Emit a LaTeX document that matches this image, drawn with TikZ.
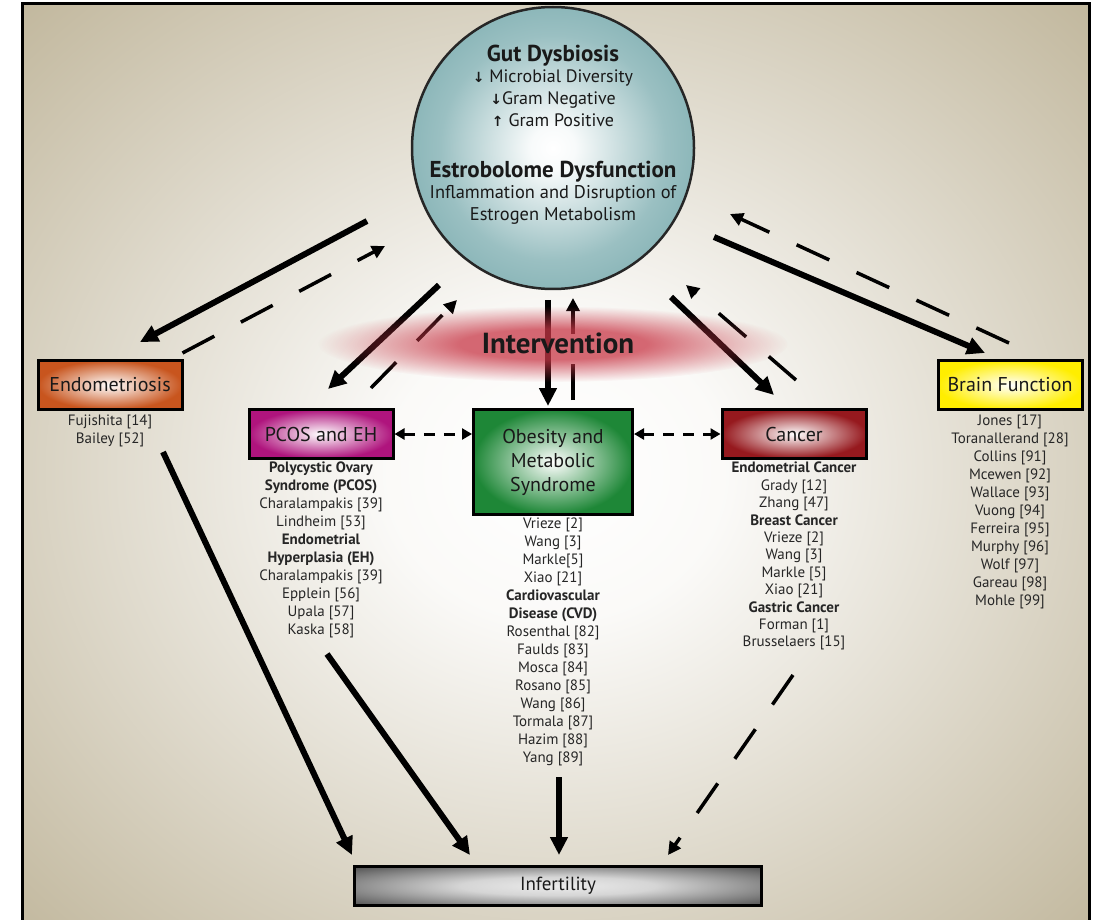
\documentclass[tikz,border=0pt]{standalone}
\usepackage{fontspec}
\setmainfont{PT Sans}
\newfontfamily\arrowfont{DejaVu Sans}
\usetikzlibrary{arrows.meta,positioning,calc,fadings}

\definecolor{bgtan}{RGB}{180,168,136}
\definecolor{gutteal}{RGB}{72,140,144}
\definecolor{endocol}{RGB}{200,85,30}
\definecolor{pcoscol}{RGB}{175,20,125}
\definecolor{obescol}{RGB}{30,135,55}
\definecolor{cancol}{RGB}{150,25,30}
\definecolor{braincol}{RGB}{255,238,0}
\definecolor{infgray}{RGB}{88,88,88}
\definecolor{infhi}{RGB}{235,235,235}
\definecolor{glowred}{RGB}{200,55,70}

\pgfdeclareradialshading{bgglow}{\pgfpoint{0bp}{0bp}}{color(0bp)=(white); color(8bp)=(white!94!bgtan); color(42bp)=(bgtan); color(60bp)=(bgtan)}
\pgfdeclareradialshading{gutball}{\pgfpoint{0bp}{0bp}}{color(0bp)=(white); color(4bp)=(white!96!gutteal); color(20bp)=(gutteal!55!white); color(50bp)=(gutteal)}
\pgfdeclareradialshading{infglow}{\pgfpoint{0bp}{0bp}}{color(0bp)=(infhi); color(12bp)=(infhi!85!infgray); color(34bp)=(infgray); color(50bp)=(infgray)}
\pgfdeclareradialshading{glowshape}{\pgfpoint{0bp}{0bp}}{color(0bp)=(white); color(10bp)=(white); color(25bp)=(black); color(50bp)=(black)}
\pgfdeclarefading{glowfade}{\pgfuseshading{glowshape}}

\newcommand{\dnarr}{{\arrowfont\bfseries\fontsize{14}{22}\selectfont↓}}
\newcommand{\uparr}{{\arrowfont\bfseries\fontsize{14}{22}\selectfont↑}}

\begin{document}
\begin{tikzpicture}[x=1pt,y=-1pt,
  condbox/.style={draw=black, line width=3pt, minimum width=144pt, minimum height=49pt, inner color=white, outer color=#1, text=black!90, font=\fontsize{20}{24}\selectfont},
  cites/.style={align=center, inner sep=0pt, text=black!85, font=\fontsize{15}{18}\selectfont},
  solidarr/.style={line width=6pt, -{Triangle[length=18pt,width=17pt]}},
  backarr/.style={line width=3.5pt, dash pattern=on 36pt off 30pt, -{Triangle[length=13pt,width=13pt]}},
  linkarr/.style={line width=3pt, dash pattern=on 11pt off 9pt, {Triangle[length=10pt,width=11pt]}-{Triangle[length=10pt,width=11pt]}}]
\path[use as bounding box, fill=white] (0,0) rectangle (1101,920);
\clip (0,0) rectangle (1101,920);
\shade[shading=bgglow] (22,4) rectangle (1089,940);
\draw[line width=3pt] (22,4) rectangle (1089,940);

% microbiome
\node[circle, draw=black!85, line width=2.5pt, minimum size=282pt, inner sep=0pt, shade, shading=gutball] (gut) at (553,148) {};
\node[anchor=base, text=black!90, font=\fontsize{23}{26}\bfseries] (dysbio) at (553,62) {Gut Dysbiosis};
\node[anchor=north, align=center, inner sep=0pt, text=black!90, font=\fontsize{18}{22}\selectfont] (dyslist) at (553,70) {\dnarr\ Microbial Diversity\\\dnarr Gram Negative\\\uparr\ Gram Positive};
\node[anchor=base, text=black!90, font=\fontsize{23}{26}\bfseries] (estro) at (553,178) {Estrobolome Dysfunction};
\node[anchor=north, align=center, inner sep=0pt, text=black!90, font=\fontsize{18.4}{22}\selectfont] (estrotext) at (553,185) {Inflammation and Disruption of\\Estrogen Metabolism};

% conditions
\node[condbox=endocol] (endo) at (110,385) {Endometriosis};
\node[condbox=pcoscol] (pcos) at (321,434) {PCOS and EH};
\node[condbox=obescol, minimum width=159pt, minimum height=105pt, align=center, font=\fontsize{20}{24}\selectfont] (obes) at (553,462) {Obesity and\\Metabolic\\Syndrome};
\node[condbox=cancol] (canc) at (794,434) {Cancer};
\node[condbox=braincol] (brain) at (1010,385) {Brain Function};
\node[draw=black, line width=3pt, minimum width=407pt, minimum height=39pt, shade, shading=infglow, text=black!90, font=\fontsize{19}{22}\selectfont] (infert) at (558,886) {Infertility};

% references
\node[cites, below=4pt of endo] (endolist) {Fujishita [14]\\Bailey [52]};
\node[cites, below=2pt of pcos] (pcoslist) {\textbf{Polycystic Ovary}\\\textbf{Syndrome (PCOS)}\\Charalampakis [39]\\Lindheim [53]\\\textbf{Endometrial}\\\textbf{Hyperplasia (EH)}\\Charalampakis [39]\\Epplein [56]\\Upala [57]\\Kaska [58]};
\node[cites, below=2pt of obes] (obeslist) {Vrieze [2]\\Wang [3]\\Markle[5]\\Xiao [21]\\\textbf{Cardiovascular}\\\textbf{Disease (CVD)}\\Rosenthal [82]\\Faulds [83]\\Mosca [84]\\Rosano [85]\\Wang [86]\\Tormala [87]\\Hazim [88]\\Yang [89]};
\node[cites, below=2pt of canc, font=\fontsize{15}{17.4}\selectfont] (canclist) {\textbf{Endometrial Cancer}\\Grady [12]\\Zhang [47]\\\textbf{Breast Cancer}\\Vrieze [2]\\Wang [3]\\Markle [5]\\Xiao [21]\\\textbf{Gastric Cancer}\\Forman [1]\\Brusselaers [15]};
\node[cites, below=4pt of brain] (brainlist) {Jones [17]\\Toranallerand [28]\\Collins [91]\\Mcewen [92]\\Wallace [93]\\Vuong [94]\\Ferreira [95]\\Murphy [96]\\Wolf [97]\\Gareau [98]\\Mohle [99]};

% arrows
\draw[solidarr] ($(gut)+(-186,73)$) -- ($(endo.north)+(30,-17)$);
\draw[solidarr] ($(gut)+(-114,137)$) -- ($(pcos.north)+(7,-19)$);
\draw[solidarr] ($(gut)+(-5,152)$) -- ($(obes.north)+(-5,-2)$);
\draw[solidarr] ($(gut)+(118,149)$) -- ($(canc.north)+(-20,-13)$);
\draw[solidarr] ($(gut)+(161,89)$) -- ($(brain.north)+(-25,-6)$);
\draw[backarr] ($(endo.north east)+(-1,-6)$) -- ($(gut)+(-168,98)$);
\draw[backarr] ($(pcos.north)+(50,-20)$) -- ($(gut)+(-96,152)$);
\draw[backarr] ($(obes.north)+(20,-8)$) -- ($(gut)+(20,150)$);
\draw[backarr] ($(canc.north)+(2,-28)$) -- ($(gut)+(133,137)$);
\draw[backarr] ($(brain.north)+(-1,-16)$) -- ($(gut)+(177,66)$);
\draw[linkarr] (pcos.east) -- (pcos.east -| obes.west);
\draw[linkarr] (obes.east |- canc.west) -- (canc.west);
\draw[solidarr] ($(endo.south)+(53,41)$) -- ($(infert.north)+(-206,-10)$);
\draw[solidarr] ($(pcos.south)+(6,194)$) -- ($(infert.north)+(-88,-10)$);
\draw[solidarr] ($(obes.south)+(6,261)$) -- ($(infert.north)+(1,-10)$);
\draw[backarr] ($(canc.south)+(-1,215)$) -- ($(infert.north)+(110,-10)$);

% intervention
\fill[glowred, opacity=0.75, path fading=glowfade] (553,344) ellipse [x radius=235pt, y radius=38pt];
\node[text=black!90, font=\fontsize{29}{32}\bfseries] (interv) at (558,343) {Intervention};
\end{tikzpicture}
\end{document}
